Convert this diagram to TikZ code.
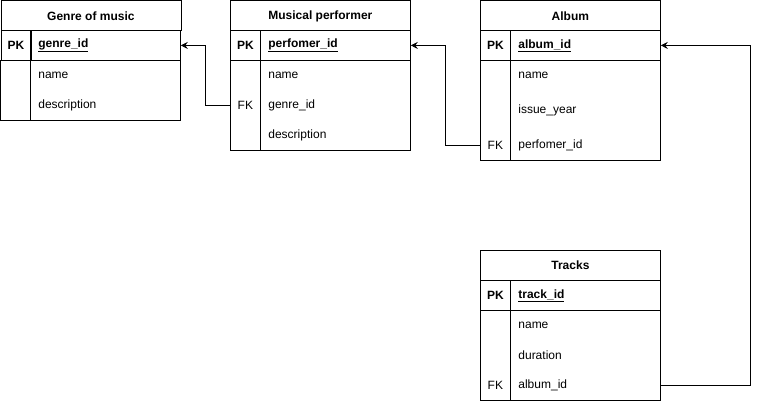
\documentclass[tikz,border=0pt]{standalone}
\usepackage{fontspec}
\setmainfont{Liberation Sans}
\usepackage{tikz}
\usetikzlibrary{positioning,calc,arrows.meta}

\newcommand{\tblfont}{\fontsize{12}{14}\selectfont}

\tikzset{
  hdr/.style={draw, minimum width=180pt, minimum height=30pt, anchor=north west, inner sep=0pt, font=\tblfont\bfseries},
  keycell/.style={minimum width=30pt, minimum height=30pt, anchor=north west, inner sep=0pt, font=\tblfont\bfseries},
  pkfield/.style={draw, minimum width=150pt, minimum height=30pt, anchor=north west, inner xsep=8pt, inner ysep=0pt, text width=134pt, align=left, font=\tblfont\bfseries},
  fkcell/.style={minimum width=30pt, minimum height=30pt, anchor=west, inner sep=0pt, font=\tblfont},
  rowfield/.style={minimum width=150pt, minimum height=30pt, anchor=west, inner xsep=8pt, inner ysep=0pt, text width=134pt, align=left, font=\tblfont},
  link/.style={line width=0.8pt, -{Stealth[length=7pt, width=7pt, inset=2.5pt]}}
}

\begin{document}
\begin{tikzpicture}[x=1pt, y=-1pt, line width=0.8pt]
  \useasboundingbox (0,0) rectangle (759,401);

  % Genre of music (left)
  \node[hdr] (genre) at (0.5,0.5) {Genre of music};
  \node[keycell, draw] (genre-key) at (0.5,30) {PK};
  \node[pkfield] (genre-id) at (30,30) {\underline{genre\_id}};
  \draw (0.5,60) rectangle (180,120);
  \draw (30,60) -- (30,120);
  \node[rowfield] (genre-name) at (30,75) {name};
  \node[rowfield] (genre-desc) at (30,105) {description};

  % Musical performer
  \node[hdr] (perf) at (230,0.5) {Musical performer};
  \node[keycell, draw] (perf-key) at (230,30) {PK};
  \node[pkfield] (perf-id) at (260,30) {\underline{perfomer\_id}};
  \draw (230,60) rectangle (410,150);
  \draw (260,60) -- (260,150);
  \node[rowfield] (perf-name) at (260,75) {name};
  \node[fkcell] (perf-fk) at (230,105) {FK};
  \node[rowfield] (perf-genre) at (260,105) {genre\_id};
  \node[rowfield] (perf-desc) at (260,135) {description};

  % Album
  \node[hdr] (album) at (480,0.5) {Album};
  \node[keycell, draw] (album-key) at (480,30) {PK};
  \node[pkfield] (album-id) at (510,30) {\underline{album\_id}};
  \draw (480,60) rectangle (660,160);
  \draw (510,60) -- (510,160);
  \node[rowfield] (album-name) at (510,75) {name};
  \node[rowfield] (album-year) at (510,110) {issue\_year};
  \node[fkcell] (album-fk) at (480,145) {FK};
  \node[rowfield] (album-perf) at (510,145) {perfomer\_id};

  % Tracks
  \node[hdr] (tracks) at (480,250) {Tracks};
  \node[keycell, draw] (tracks-key) at (480,280) {PK};
  \node[pkfield] (tracks-id) at (510,280) {\underline{track\_id}};
  \draw (480,310) rectangle (660,400);
  \draw (510,310) -- (510,400);
  \node[rowfield] (tracks-name) at (510,325) {name};
  \node[rowfield] (tracks-dur) at (510,355) {duration};
  \node[fkcell] (tracks-fk) at (480,385) {FK};
  \node[rowfield] (tracks-album) at (510,385) {album\_id};

  % Foreign keys
  \draw[link] (perf-fk.west) -- ++(-25,0) |- (genre-id.east);
  \draw[link] (album-fk.west) -- ++(-35,0) |- (perf-id.east);
  \draw[link] (tracks-album.east) -- ++(90,0) |- (album-id.east);
\end{tikzpicture}
\end{document}
